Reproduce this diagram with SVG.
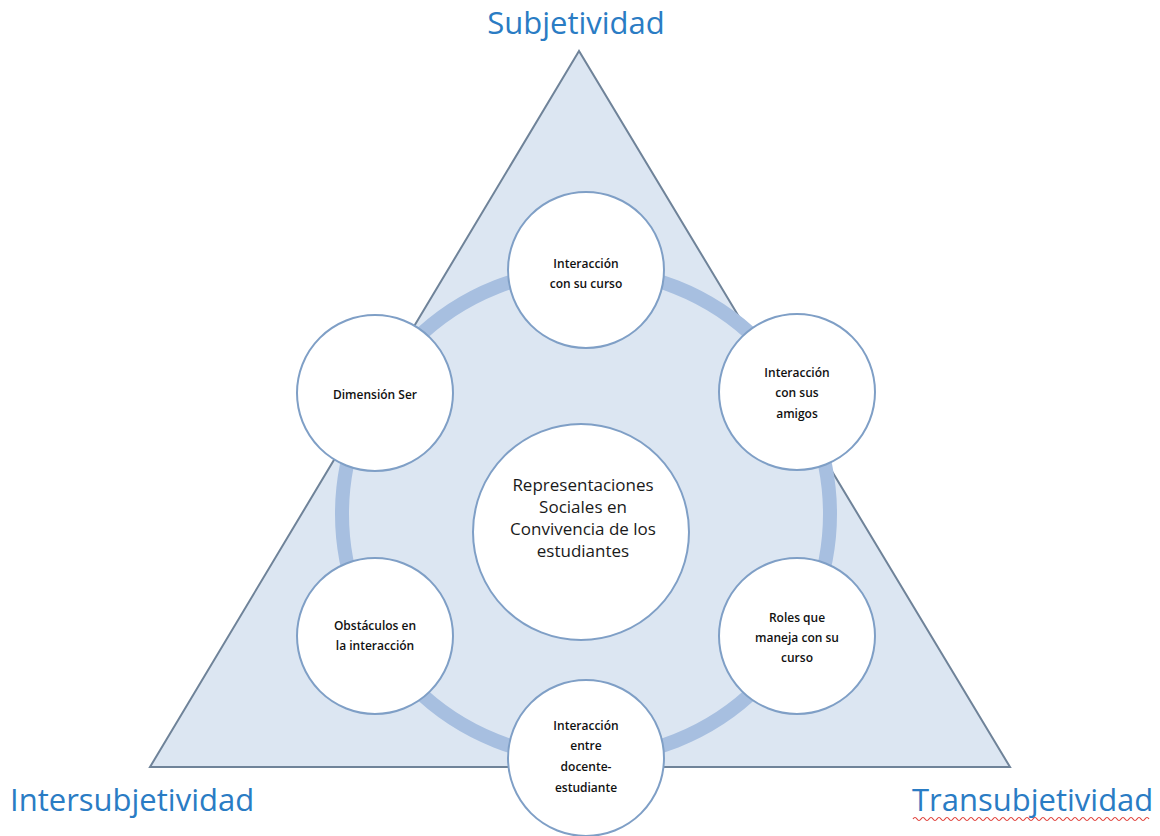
<svg xmlns="http://www.w3.org/2000/svg" width="1160" height="836" viewBox="0 0 1160 836">
<style>
.title{font-family:"Open Sans","Liberation Sans",sans-serif;font-size:31px;fill:#2a7cc4;font-weight:500;}
.node circle{fill:#ffffff;stroke:#7f9fc6;stroke-width:2;}
.lbl{font-family:"Open Sans","Liberation Sans",sans-serif;font-size:12px;fill:#111;text-anchor:middle;font-weight:600;}
.clbl{font-family:"Open Sans","Liberation Sans",sans-serif;font-size:17px;fill:#1a1a1a;text-anchor:middle;}
</style>
<rect width="1160" height="836" fill="#ffffff"/>
<polygon points="579,51 150,767 1010,767" fill="#dce6f2" stroke="#6f8399" stroke-width="2"/>
<g id="connectors">
<circle cx="586" cy="514" r="244" fill="none" stroke="#a7bfe0" stroke-width="14"/>
</g>
<g id="center" class="node">
<circle cx="581" cy="532" r="108"/>
<text class="clbl" x="583" y="491">Representaciones</text>
<text class="clbl" x="583" y="513">Sociales en</text>
<text class="clbl" x="583" y="535">Convivencia de los</text>
<text class="clbl" x="583" y="557">estudiantes</text>
</g>
<g id="n-curso" class="node">
<circle cx="586" cy="270" r="78"/>
<text class="lbl" x="586" y="268">Interacción</text>
<text class="lbl" x="586" y="288">con su curso</text>
</g>
<g id="n-amigos" class="node">
<circle cx="797" cy="392" r="78"/>
<text class="lbl" x="797" y="377">Interacción</text>
<text class="lbl" x="797" y="397">con sus</text>
<text class="lbl" x="797" y="418">amigos</text>
</g>
<g id="n-roles" class="node">
<circle cx="797" cy="636" r="78"/>
<text class="lbl" x="797" y="622">Roles que</text>
<text class="lbl" x="797" y="642">maneja con su</text>
<text class="lbl" x="797" y="662">curso</text>
</g>
<g id="n-docente" class="node">
<circle cx="586" cy="758" r="78"/>
<text class="lbl" x="586" y="730">Interacción</text>
<text class="lbl" x="586" y="750">entre</text>
<text class="lbl" x="586" y="771">docente-</text>
<text class="lbl" x="586" y="792">estudiante</text>
</g>
<g id="n-obstaculos" class="node">
<circle cx="375" cy="636" r="78"/>
<text class="lbl" x="375" y="630">Obstáculos en</text>
<text class="lbl" x="375" y="650">la interacción</text>
</g>
<g id="n-ser" class="node">
<circle cx="375" cy="393" r="78"/>
<text class="lbl" x="375" y="399">Dimensión Ser</text>
</g>
<text class="title" x="576" y="34" text-anchor="middle">Subjetividad</text>
<text class="title" x="10" y="811">Intersubjetividad</text>
<text class="title" x="912" y="811">Transubjetividad</text>
<path d="M913,819 q2,-3 4,0 t4,0 t4,0 t4,0 t4,0 t4,0 t4,0 t4,0 t4,0 t4,0 t4,0 t4,0 t4,0 t4,0 t4,0 t4,0 t4,0 t4,0 t4,0 t4,0 t4,0 t4,0 t4,0 t4,0 t4,0 t4,0 t4,0 t4,0 t4,0 t4,0 t4,0 t4,0 t4,0 t4,0 t4,0 t4,0 t4,0 t4,0 t4,0 t4,0 t4,0 t4,0 t4,0 t4,0 t4,0 t4,0 t4,0 t4,0 t4,0 t4,0 t4,0 t4,0 t4,0 t4,0 t4,0 t4,0 t4,0 t4,0 t4,0" fill="none" stroke="#e0403a" stroke-width="1.2"/>
</svg>
